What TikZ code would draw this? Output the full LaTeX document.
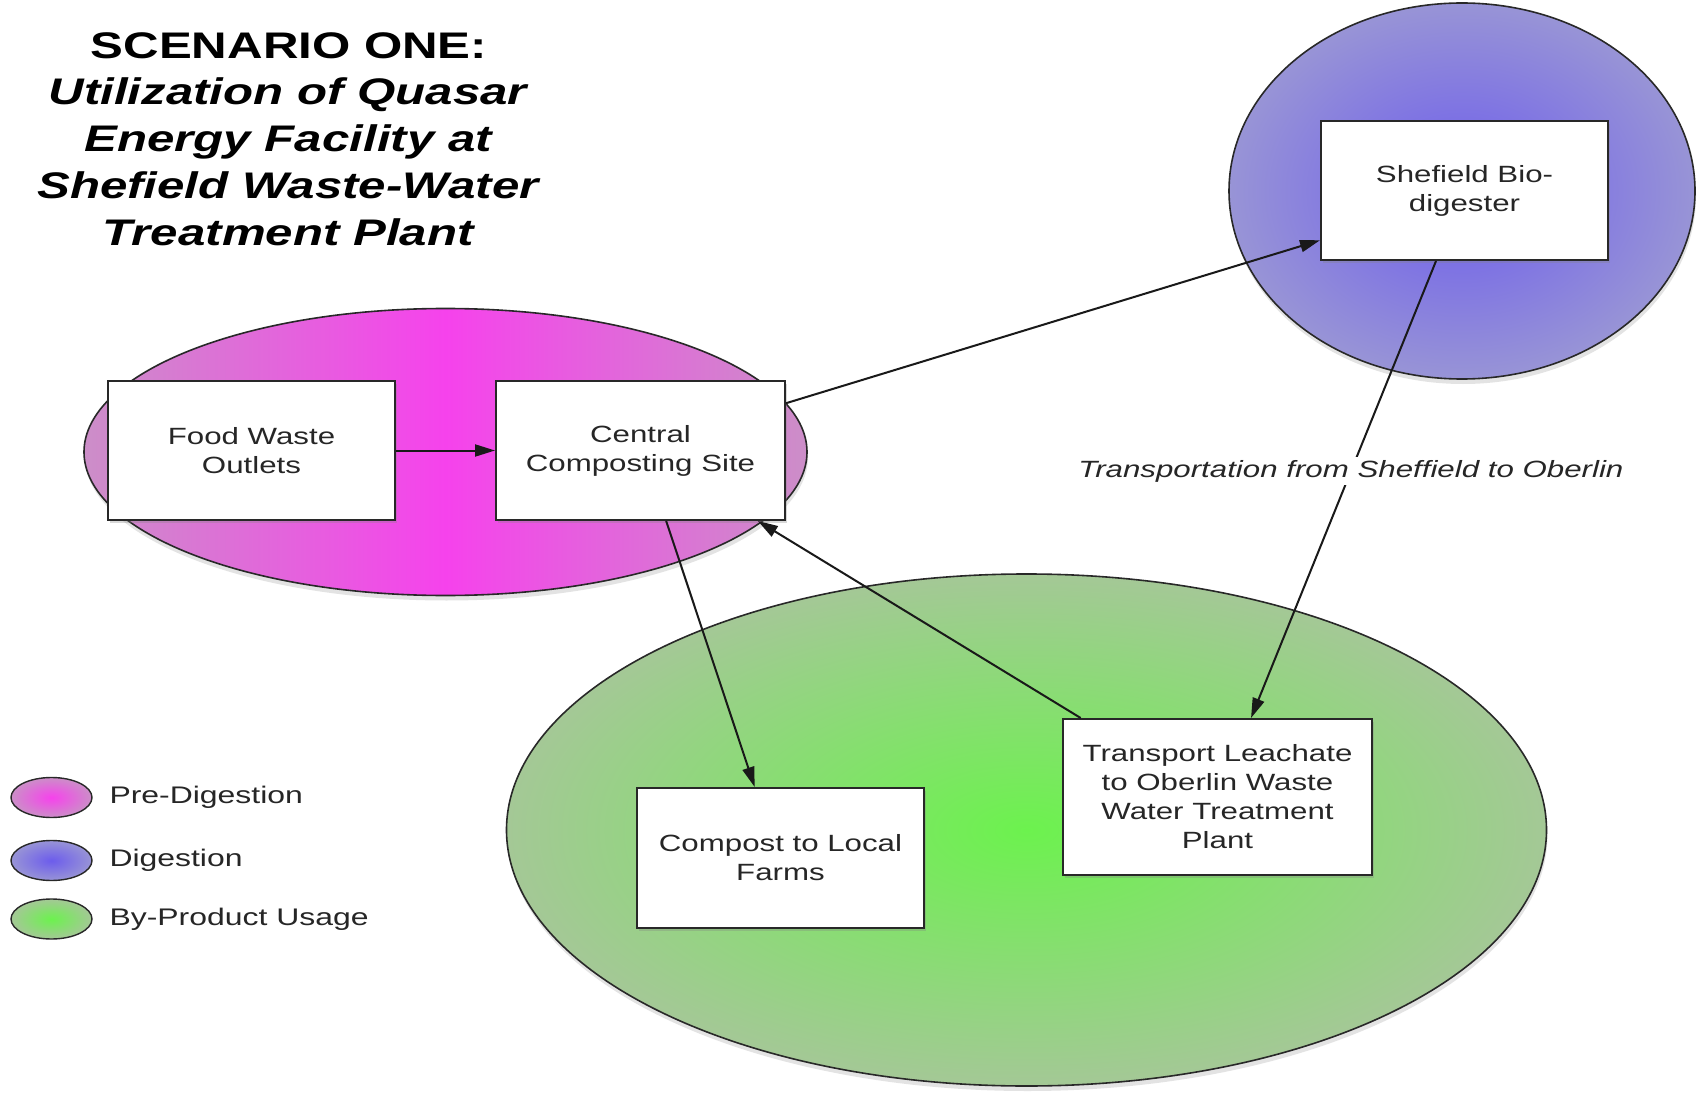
\documentclass[tikz,border=0pt]{standalone}
\usepackage{fontspec}
\setmainfont{Liberation Sans}[FakeStretch=1.33]
\usetikzlibrary{arrows.meta,shadows}

\definecolor{pinkIn}{RGB}{246,66,236}
\definecolor{pinkOut}{RGB}{204,142,200}
\definecolor{blueIn}{RGB}{108,92,236}
\definecolor{blueOut}{RGB}{152,148,214}
\definecolor{greenIn}{RGB}{108,242,78}
\definecolor{greenOut}{RGB}{164,200,150}
\definecolor{edge}{RGB}{40,40,40}

\tikzset{
  zone/.style={draw=edge, line width=1.6pt,
    drop shadow={shadow xshift=1pt, shadow yshift=-5pt, opacity=0.22}},
  keyzone/.style={draw=edge, line width=1.4pt},
  stepbox/.style={draw=edge, line width=2pt, fill=white, align=center,
    minimum width=287pt, minimum height=139pt, inner sep=4pt,
    text=black!85, font=\fontsize{23.5}{29}\selectfont,
    drop shadow={shadow xshift=2pt, shadow yshift=-3pt, opacity=0.3}},
  flow/.style={line width=2pt, draw=black!90,
    -{Triangle[length=20pt,width=12pt]}},
  keytext/.style={anchor=west, text=black!85, font=\fontsize{24}{29}\selectfont},
}

\begin{document}
\begin{tikzpicture}[x=1pt,y=-1pt]
  \useasboundingbox (0,0) rectangle (1698,1099);
  \fill[white] (0,0) rectangle (1698,1099);

  % stage regions
  \path[zone, inner color=greenIn, outer color=greenOut]
    (1026.5,830) ellipse [x radius=520, y radius=256];
  \path[zone, left color=pinkOut, right color=pinkOut, middle color=pinkIn]
    (445.5,452) ellipse [x radius=361.5, y radius=143.5];
  \path[zone, inner color=blueIn, outer color=blueOut]
    (1462,191) ellipse [x radius=233, y radius=188];

  % title
  \node[align=center, font=\fontsize{37}{46.8}\selectfont\bfseries] (title) at (289,139)
    {SCENARIO ONE:\\
     \textit{Utilization of Quasar}\\
     \textit{Energy Facility at}\\
     \textit{Shefield Waste-Water}\\
     \textit{Treatment Plant}};

  % process steps
  \node[stepbox] (food)    at (251.5,450.5) {Food Waste\\Outlets};
  \node[stepbox, minimum width=289pt] (central) at (640.5,450.5) {Central\\Composting Site};
  \node[stepbox] (bio)     at (1464.5,190.5) {Shefield Bio-\\digester};
  \node[stepbox, minimum height=140pt] (compost) at (780.5,858) {Compost to Local\\Farms};
  \node[stepbox, minimum width=309pt, minimum height=156pt] (leach) at (1217.5,797)
    {Transport Leachate\\to Oberlin Waste\\Water Treatment\\Plant};

  % flows
  \draw[flow] (food) -- (central);
  \draw[flow] (central.18) -- (bio.199);
  \draw[flow] (central.290) -- (compost.110);
  \draw[flow] (leach.150) -- (central.329);
  \draw[flow] (bio.248) -- node[pos=0.46, fill=white, inner sep=3pt,
      font=\fontsize{23.5}{29}\selectfont\itshape, text=black!85] (route)
      {Transportation from Sheffield to Oberlin} (leach.67);

  % legend
  \path[keyzone, inner color=pinkIn, outer color=pinkOut]
    (51.5,797.5) ellipse [x radius=40.5, y radius=20];
  \path[keyzone, inner color=blueIn, outer color=blueOut]
    (51.5,860.5) ellipse [x radius=40.5, y radius=20];
  \path[keyzone, inner color=greenIn, outer color=greenOut]
    (51.5,919) ellipse [x radius=40.5, y radius=20];
  \node[keytext] (kpre) at (106,797.5) {Pre-Digestion};
  \node[keytext] (kdig) at (106,860.5) {Digestion};
  \node[keytext] (kby)  at (106,919) {By-Product Usage};
\end{tikzpicture}
\end{document}
